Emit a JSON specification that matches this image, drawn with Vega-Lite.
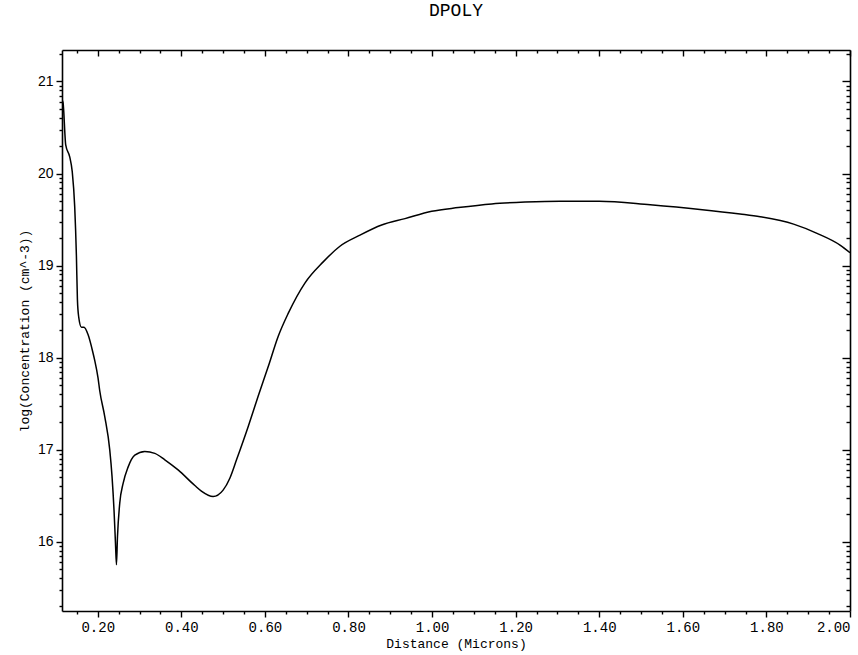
{
  "$schema": "https://vega.github.io/schema/vega-lite/v6.json",
  "width": 788,
  "height": 561,
  "autosize": {"type": "none"},
  "padding": {"left": 62, "top": 50, "right": 8, "bottom": 44},
  "background": "white",
  "title": {
    "text": "DPOLY",
    "font": "Liberation Mono",
    "fontSize": 18,
    "fontWeight": "normal",
    "color": "black",
    "anchor": "middle",
    "offset": 27
  },
  "config": {
    "view": {"stroke": null},
    "axis": {
      "grid": false,
      "domainColor": "black",
      "domainWidth": 1.6,
      "tickColor": "black",
      "tickWidth": 1.4,
      "labelColor": "black",
      "titleColor": "black",
      "labelOverlap": false
    }
  },
  "data": {
    "values": [
      {"d": 0.1145, "c": 20.80},
      {"d": 0.117, "c": 20.77},
      {"d": 0.1234, "c": 20.31},
      {"d": 0.133, "c": 20.18},
      {"d": 0.139, "c": 20.02},
      {"d": 0.1449, "c": 19.64},
      {"d": 0.149, "c": 19.10},
      {"d": 0.1514, "c": 18.63},
      {"d": 0.1545, "c": 18.44},
      {"d": 0.161, "c": 18.33},
      {"d": 0.1672, "c": 18.33},
      {"d": 0.1768, "c": 18.25},
      {"d": 0.1887, "c": 18.05},
      {"d": 0.1928, "c": 17.97},
      {"d": 0.2007, "c": 17.78},
      {"d": 0.2048, "c": 17.64},
      {"d": 0.2168, "c": 17.36},
      {"d": 0.2287, "c": 17.00},
      {"d": 0.2342, "c": 16.71},
      {"d": 0.239, "c": 16.34},
      {"d": 0.2424, "c": 15.99},
      {"d": 0.2448, "c": 15.75},
      {"d": 0.2472, "c": 16.05},
      {"d": 0.2527, "c": 16.42},
      {"d": 0.2606, "c": 16.63},
      {"d": 0.2726, "c": 16.81},
      {"d": 0.2887, "c": 16.94},
      {"d": 0.3126, "c": 16.98},
      {"d": 0.3366, "c": 16.96},
      {"d": 0.3605, "c": 16.89},
      {"d": 0.3923, "c": 16.78},
      {"d": 0.4323, "c": 16.61},
      {"d": 0.4480, "c": 16.55},
      {"d": 0.476, "c": 16.49},
      {"d": 0.5, "c": 16.56},
      {"d": 0.5161, "c": 16.69},
      {"d": 0.5321, "c": 16.89},
      {"d": 0.5599, "c": 17.25},
      {"d": 0.5838, "c": 17.58},
      {"d": 0.6078, "c": 17.90},
      {"d": 0.6317, "c": 18.23},
      {"d": 0.6557, "c": 18.48},
      {"d": 0.6957, "c": 18.81},
      {"d": 0.7395, "c": 19.04},
      {"d": 0.7795, "c": 19.21},
      {"d": 0.8274, "c": 19.33},
      {"d": 0.8793, "c": 19.44},
      {"d": 0.9352, "c": 19.51},
      {"d": 0.9991, "c": 19.59},
      {"d": 1.0628, "c": 19.63},
      {"d": 1.1428, "c": 19.67},
      {"d": 1.2225, "c": 19.69},
      {"d": 1.306, "c": 19.70},
      {"d": 1.40, "c": 19.70},
      {"d": 1.522, "c": 19.66},
      {"d": 1.641, "c": 19.61},
      {"d": 1.737, "c": 19.56},
      {"d": 1.785, "c": 19.53},
      {"d": 1.865, "c": 19.45},
      {"d": 1.921, "c": 19.35},
      {"d": 1.977, "c": 19.22},
      {"d": 2.0, "c": 19.14}
    ]
  },
  "layer": [
    {
      "mark": {"type": "line", "color": "black", "strokeWidth": 1.5, "interpolate": "monotone", "clip": true},
      "encoding": {
        "x": {
          "field": "d",
          "type": "quantitative",
          "scale": {"domain": [0.1145, 2.0], "nice": false, "zero": false},
          "axis": {
            "orient": "bottom",
            "title": "Distance (Microns)",
            "titleFont": "Liberation Mono",
            "titleFontSize": 13,
            "titleFontWeight": "normal",
            "titlePadding": 3,
            "labelFont": "Liberation Mono",
            "labelFontSize": 14,
            "labelPadding": 3,
            "labelFlush": true,
            "values": [0.15, 0.2, 0.25, 0.3, 0.35, 0.4, 0.45, 0.5, 0.55, 0.6, 0.65, 0.7, 0.75, 0.8, 0.85, 0.9, 0.95, 1.0, 1.05, 1.1, 1.15, 1.2, 1.25, 1.3, 1.35, 1.4, 1.45, 1.5, 1.55, 1.6, 1.65, 1.7, 1.75, 1.8, 1.85, 1.9, 1.95, 2.0],
            "labelExpr": "abs(datum.value * 5 - round(datum.value * 5)) < 0.001 ? format(datum.value, '.2f') : ''",
            "tickSize": {"condition": {"test": "abs(datum.value * 5 - round(datum.value * 5)) < 0.001", "value": 6}, "value": 3}
          }
        },
        "y": {
          "field": "c",
          "type": "quantitative",
          "scale": {"domain": [15.247, 21.342], "nice": false, "zero": false},
          "axis": {
            "orient": "left",
            "title": "log(Concentration (cm^-3))",
            "titleFont": "Liberation Mono",
            "titleFontSize": 13,
            "titleFontWeight": "normal",
            "titlePadding": 6,
            "labelFont": "Liberation Sans",
            "labelFontSize": 14,
            "labelPadding": 3,
            "labelFlush": false,
            "values": [15.301, 15.477, 15.602, 15.699, 15.778, 15.845, 15.903, 15.954, 16, 16.301, 16.477, 16.602, 16.699, 16.778, 16.845, 16.903, 16.954, 17, 17.301, 17.477, 17.602, 17.699, 17.778, 17.845, 17.903, 17.954, 18, 18.301, 18.477, 18.602, 18.699, 18.778, 18.845, 18.903, 18.954, 19, 19.301, 19.477, 19.602, 19.699, 19.778, 19.845, 19.903, 19.954, 20, 20.301, 20.477, 20.602, 20.699, 20.778, 20.845, 20.903, 20.954, 21, 21.301],
            "labelExpr": "abs(datum.value - round(datum.value)) < 0.001 ? format(datum.value, 'd') : ''",
            "tickSize": {"condition": {"test": "abs(datum.value - round(datum.value)) < 0.001", "value": 6}, "value": 3}
          }
        }
      }
    },
    {
      "mark": {"type": "line", "color": "black", "strokeWidth": 1.5, "strokeOpacity": 0, "clip": true},
      "encoding": {
        "x": {
          "field": "d",
          "type": "quantitative",
          "scale": {"domain": [0.1145, 2.0], "nice": false, "zero": false},
          "axis": {
            "orient": "top",
            "title": null,
            "labels": false,
            "values": [0.15, 0.2, 0.25, 0.3, 0.35, 0.4, 0.45, 0.5, 0.55, 0.6, 0.65, 0.7, 0.75, 0.8, 0.85, 0.9, 0.95, 1.0, 1.05, 1.1, 1.15, 1.2, 1.25, 1.3, 1.35, 1.4, 1.45, 1.5, 1.55, 1.6, 1.65, 1.7, 1.75, 1.8, 1.85, 1.9, 1.95, 2.0],
            "tickSize": {"condition": {"test": "abs(datum.value * 5 - round(datum.value * 5)) < 0.001", "value": -6}, "value": -3}
          }
        },
        "y": {
          "field": "c",
          "type": "quantitative",
          "scale": {"domain": [15.247, 21.342], "nice": false, "zero": false},
          "axis": {
            "orient": "right",
            "title": null,
            "labels": false,
            "values": [15.301, 15.477, 15.602, 15.699, 15.778, 15.845, 15.903, 15.954, 16, 16.301, 16.477, 16.602, 16.699, 16.778, 16.845, 16.903, 16.954, 17, 17.301, 17.477, 17.602, 17.699, 17.778, 17.845, 17.903, 17.954, 18, 18.301, 18.477, 18.602, 18.699, 18.778, 18.845, 18.903, 18.954, 19, 19.301, 19.477, 19.602, 19.699, 19.778, 19.845, 19.903, 19.954, 20, 20.301, 20.477, 20.602, 20.699, 20.778, 20.845, 20.903, 20.954, 21, 21.301],
            "tickSize": {"condition": {"test": "abs(datum.value - round(datum.value)) < 0.001", "value": -8}, "value": -4}
          }
        }
      }
    }
  ],
  "resolve": {"axis": {"x": "independent", "y": "independent"}}
}
